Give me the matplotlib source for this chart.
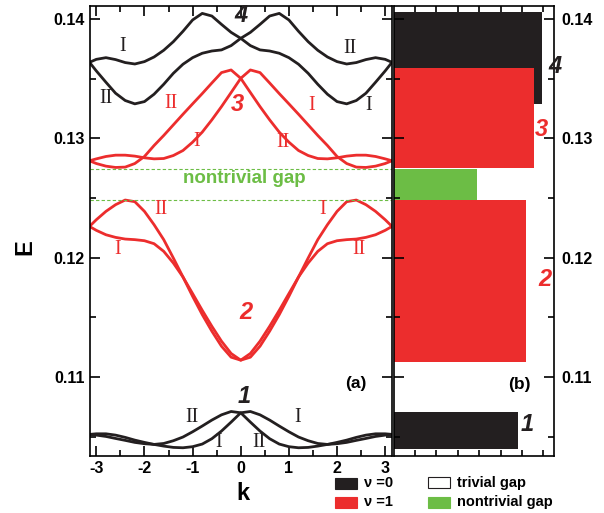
import numpy as np
import matplotlib
matplotlib.use('Agg')
import matplotlib.pyplot as plt
from matplotlib.patches import Rectangle
from matplotlib.ticker import MultipleLocator

plt.rcParams['font.family'] = ['Liberation Sans', 'DejaVu Sans']

RED = '#ec2d2d'
BLACK = '#231f20'
GREEN = '#6cbd45'

# k grid (symmetric), curve II of each band is curve I mirrored in k
k = [-3.1416, -3.0, -2.8, -2.6, -2.4, -2.2, -2.0, -1.8, -1.6, -1.4, -1.2, -1.0, -0.8, -0.6, -0.4, -0.2, 0.0,
     0.2, 0.4, 0.6, 0.8, 1.0, 1.2, 1.4, 1.6, 1.8, 2.0, 2.2, 2.4, 2.6, 2.8, 3.0, 3.1416]

band1_I = [0.10519, 0.10524, 0.10524, 0.10513, 0.10494, 0.10471, 0.10452, 0.10435, 0.10421, 0.10410, 0.10407,
           0.10416, 0.10438, 0.10483, 0.10547, 0.10622, 0.10700, 0.10711, 0.10683, 0.10639, 0.10589, 0.10541,
           0.10497, 0.10466, 0.10443, 0.10435, 0.10441, 0.10452, 0.10469, 0.10485, 0.10502, 0.10513, 0.10519]
band2_I = [0.12262, 0.12229, 0.12192, 0.12170, 0.12156, 0.12151, 0.12142, 0.12117, 0.12053, 0.11955, 0.11838,
           0.11699, 0.11559, 0.11425, 0.11300, 0.11197, 0.11141, 0.11166, 0.11258, 0.11384, 0.11523, 0.11676,
           0.11838, 0.11997, 0.12151, 0.12276, 0.12388, 0.12469, 0.12483, 0.12444, 0.12388, 0.12318, 0.12262]
band3_I = [0.12812, 0.12828, 0.12848, 0.12859, 0.12859, 0.12851, 0.12837, 0.12828, 0.12831, 0.12856, 0.12898,
           0.12968, 0.13052, 0.13155, 0.13266, 0.13384, 0.13503, 0.13573, 0.13551, 0.13464, 0.13375, 0.13289,
           0.13202, 0.13113, 0.13024, 0.12940, 0.12848, 0.12789, 0.12759, 0.12756, 0.12767, 0.12789, 0.12812]
band4_I = [0.13637, 0.13662, 0.13676, 0.13660, 0.13635, 0.13623, 0.13643, 0.13682, 0.13738, 0.13810, 0.13897,
           0.13992, 0.14047, 0.14025, 0.13955, 0.13888, 0.13838, 0.13777, 0.13741, 0.13732, 0.13713, 0.13676,
           0.13621, 0.13545, 0.13453, 0.13370, 0.13308, 0.13289, 0.13317, 0.13378, 0.13470, 0.13565, 0.13637]
bands = [band1_I, band2_I, band3_I, band4_I]
band_colors = [BLACK, RED, RED, BLACK]

# panel (b): band extent and bar length
bar_lo = [0.10395, 0.11125, 0.12755, 0.13289]
bar_hi = [0.10710, 0.12483, 0.13587, 0.14056]
bar_len = [5.82, 6.19, 6.57, 6.94]
gap_lo, gap_hi, gap_len = 0.12485, 0.12747, 3.89

# curve labels: text, k, E, color
roman = [('I', -2.46, 0.13768, BLACK), ('II', 2.27, 0.13749, BLACK),
         ('II', -2.81, 0.13331, BLACK), ('I', 2.65, 0.13275, BLACK),
         ('II', -1.45, 0.13294, RED), ('I', 1.47, 0.13275, RED),
         ('I', -0.91, 0.12973, RED), ('II', 0.88, 0.12965, RED),
         ('II', -1.66, 0.12402, RED), ('I', 1.70, 0.12402, RED),
         ('I', -2.56, 0.12067, RED), ('II', 2.46, 0.12067, RED),
         ('II', -1.01, 0.10658, BLACK), ('I', 1.19, 0.10658, BLACK),
         ('I', -0.45, 0.10449, BLACK), ('II', 0.38, 0.10449, BLACK)]
numbers_a = [('1', 0.07, 0.10839, BLACK), ('2', 0.11, 0.11537, RED),
             ('3', -0.07, 0.13280, RED), ('4', 0.0, 0.14033, BLACK)]
numbers_b = [('1', 6.25, 0.10603, BLACK), ('2', 7.07, 0.11816, RED),
             ('3', 6.92, 0.13071, RED), ('4', 7.53, 0.13601, BLACK)]

ylo, yhi = 0.10338, 0.14109

fig = plt.figure(figsize=(6.04, 5.13), dpi=100)
axa = fig.add_axes([89.5 / 604, 1 - 456 / 513, 302.5 / 604, 450 / 513])
axb = fig.add_axes([393.5 / 604, 1 - 456 / 513, 160.5 / 604, 450 / 513])

# ---- panel (a)
for vals, c in zip(bands, band_colors):
    axa.plot(k, vals, color=c, lw=2)
    axa.plot(k, vals[::-1], color=c, lw=2)
axa.axhline(gap_hi, color=GREEN, lw=0.8, ls=(0, (3, 2)))
axa.axhline(gap_lo, color=GREEN, lw=0.8, ls=(0, (3, 2)))
axa.text(0.07, 0.12661, 'nontrivial gap', color=GREEN, fontsize=13.5, fontweight='bold',
         ha='center', va='center')
for t, x, y, c in roman:
    axa.text(x, y, t, color=c, fontsize=14.5, family='Liberation Serif', ha='center', va='center')
for t, x, y, c in numbers_a:
    axa.text(x, y, t, color=c, fontsize=17, fontweight='bold', style='italic',
             ha='center', va='center', clip_on=False)
axa.text(2.39, 0.10947, '(a)', fontsize=12.5, fontweight='bold', ha='center', va='center')

axa.set_xlim(-np.pi, np.pi)
axa.set_ylim(ylo, yhi)
axa.xaxis.set_minor_locator(MultipleLocator(0.5))
axa.yaxis.set_minor_locator(MultipleLocator(0.005))
axa.set_yticks([0.11, 0.12, 0.13, 0.14])
axa.set_yticklabels(['0.11', '0.12', '0.13', '0.14'])
axa.set_xticks([-3, -2, -1, 0, 1, 2, 3])
axa.set_xticklabels(['-3', '-2', '-1', '0', '1', '2', '3'])
axa.tick_params(which='both', direction='in', top=True, right=True, width=1.2)
axa.tick_params(which='major', length=7, labelsize=11.5)
axa.tick_params(which='minor', length=4)
for lab in axa.get_xticklabels() + axa.get_yticklabels():
    lab.set_fontweight('bold')

# ---- panel (b): upper bands drawn first so the lower one sits on top
for lo, hi, w, c in list(zip(bar_lo, bar_hi, bar_len, band_colors))[::-1]:
    axb.barh(lo, w, height=hi - lo, left=0, align='edge', color=c, lw=0)
axb.barh(gap_lo, gap_len, height=gap_hi - gap_lo, left=0, align='edge', color=GREEN, lw=0)
for t, x, y, c in numbers_b:
    axb.text(x, y, t, color=c, fontsize=17, fontweight='bold', style='italic',
             ha='center', va='center', clip_on=False, zorder=5)
axb.text(5.9, 0.10937, '(b)', fontsize=12.5, fontweight='bold', ha='center', va='center')
axb.set_xlim(0, 7.5)
axb.set_ylim(ylo, yhi)
axb.set_xticks(range(1, 8))
axb.tick_params(axis='x', labelbottom=False)
axb.set_yticks([0.11, 0.12, 0.13, 0.14])
axb.set_yticklabels(['0.11', '0.12', '0.13', '0.14'])
axb.yaxis.set_minor_locator(MultipleLocator(0.005))
axb.yaxis.tick_right()
axb.tick_params(which='both', direction='in', top=True, bottom=True, left=True, right=True,
                labelleft=False, labelright=True, width=1.2)
axb.tick_params(axis='x', length=4)
axb.tick_params(axis='y', which='major', length=7, labelsize=11.5, pad=5)
axb.tick_params(axis='y', which='minor', length=4)
for lab in axb.get_yticklabels():
    lab.set_fontweight('bold')

for ax in (axa, axb):
    for s in ax.spines.values():
        s.set_linewidth(1.2)

# axis titles
fig.text(25 / 604, 1 - 247 / 513, 'E', rotation=90, fontsize=17, fontweight='bold',
         ha='center', va='center')
fig.text(243 / 604, 1 - 493 / 513, 'k', fontsize=17, fontweight='bold', ha='center', va='center')

# legend
leg = [(335, 477.5, BLACK, BLACK, '\u03bd =0'), (335, 496.5, RED, RED, '\u03bd =1'),
       (428, 477, 'white', BLACK, 'trivial gap'), (428, 496.5, GREEN, GREEN, 'nontrivial gap')]
for x, y, fc, ec, t in leg:
    fig.add_artist(Rectangle((x / 604, 1 - (y + 11) / 513), 21.5 / 604, 11 / 513,
                             transform=fig.transFigure, facecolor=fc, edgecolor=ec, lw=0.8))
    fig.text((x + 29) / 604, 1 - (y + 5.5) / 513, t, fontsize=10.5, fontweight='bold',
             ha='left', va='center')

fig.savefig('out.png', dpi=100)
